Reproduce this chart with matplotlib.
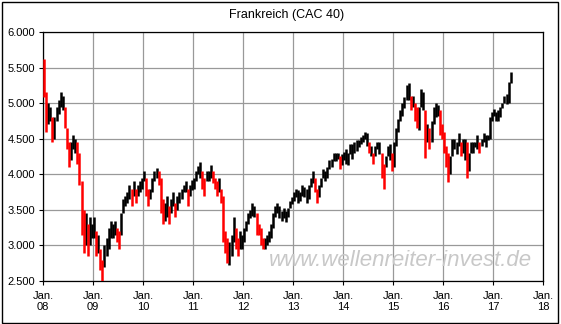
import numpy as np
import matplotlib
matplotlib.use("Agg")
import matplotlib.pyplot as plt
from matplotlib.patches import Rectangle

# CAC 40, half-monthly high / low (index points)
high_2008 = [5620, 5150, 5000, 4950, 4800, 4800, 4950, 5050, 5150, 5100, 4950, 4650,
             4450, 4450, 4550, 4500, 4450, 4300, 3900, 3500, 3450, 3300, 3400, 3300]
low_2008 = [5080, 4600, 4700, 4750, 4450, 4500, 4750, 4850, 4950, 4900, 4650, 4350,
            4100, 4200, 4350, 4300, 4150, 3850, 3150, 2900, 3000, 2850, 3000, 3100]

high_2009 = [3400, 3200, 3150, 2950, 2800, 3000, 3100, 3250, 3350, 3300, 3350, 3250,
             3200, 3450, 3650, 3700, 3750, 3850, 3800, 3900, 3800, 3850, 3900, 3950]
low_2009 = [3100, 2850, 2900, 2650, 2500, 2700, 2850, 2950, 3100, 3100, 3150, 3050,
            2950, 3150, 3450, 3550, 3600, 3650, 3550, 3700, 3600, 3700, 3750, 3800]

high_2010 = [4050, 3950, 3800, 3800, 3950, 4050, 4090, 4050, 3950, 3650, 3600, 3700,
             3550, 3650, 3750, 3600, 3700, 3750, 3800, 3850, 3900, 3800, 3850, 3920]
low_2010 = [3900, 3700, 3550, 3650, 3750, 3900, 3950, 3850, 3450, 3300, 3350, 3400,
            3300, 3450, 3550, 3400, 3500, 3600, 3650, 3750, 3750, 3550, 3700, 3780]

high_2011 = [3950, 4050, 4120, 4170, 4050, 3950, 4050, 4050, 4130, 4050, 3950, 3900,
             3950, 3800, 3700, 3200, 3100, 3050, 3150, 3400, 3250, 3100, 3200, 3150]
low_2011 = [3800, 3900, 4000, 3950, 3800, 3700, 3900, 3900, 3950, 3880, 3800, 3700,
            3750, 3600, 3050, 2900, 2750, 2720, 2850, 3050, 2950, 2850, 2950, 2950]

high_2012 = [3250, 3350, 3450, 3500, 3600, 3550, 3450, 3300, 3250, 3100, 3100, 3150,
             3200, 3300, 3450, 3550, 3600, 3560, 3480, 3520, 3480, 3520, 3630, 3680]
low_2012 = [3050, 3200, 3300, 3380, 3420, 3400, 3150, 3150, 3000, 2950, 2950, 3000,
            3050, 3100, 3250, 3400, 3450, 3380, 3340, 3380, 3330, 3400, 3520, 3580]

high_2013 = [3750, 3800, 3780, 3750, 3850, 3820, 3800, 3850, 3950, 4050, 3950, 3800,
             3850, 3950, 4080, 4050, 4100, 4200, 4220, 4300, 4300, 4300, 4250, 4280]
low_2013 = [3620, 3680, 3600, 3620, 3700, 3680, 3600, 3650, 3820, 3880, 3750, 3600,
            3680, 3820, 3950, 3900, 3950, 4080, 4100, 4180, 4180, 4220, 4080, 4130]

high_2014 = [4320, 4350, 4300, 4430, 4420, 4450, 4480, 4480, 4520, 4550, 4600, 4580,
             4450, 4400, 4300, 4400, 4450, 4450, 4300, 4150, 4250, 4400, 4420, 4300]
low_2014 = [4200, 4150, 4130, 4280, 4220, 4300, 4330, 4380, 4420, 4450, 4500, 4400,
            4300, 4250, 4150, 4250, 4350, 4280, 3950, 3790, 4100, 4250, 4200, 4050]

high_2015 = [4450, 4650, 4780, 4900, 5000, 5080, 5250, 5280, 5100, 5100, 5000, 4950,
             4950, 5200, 5150, 4900, 4700, 4650, 4750, 4950, 5000, 4980, 4900, 4700]
low_2015 = [4100, 4400, 4600, 4750, 4820, 4930, 5050, 5050, 4900, 4950, 4750, 4650,
            4620, 4950, 4900, 4230, 4450, 4350, 4450, 4700, 4800, 4820, 4550, 4500]

high_2016 = [4600, 4400, 4300, 4250, 4500, 4500, 4450, 4580, 4450, 4500, 4500, 4450,
             4300, 4450, 4450, 4450, 4550, 4450, 4500, 4580, 4550, 4550, 4800, 4870]
low_2016 = [4300, 4100, 3890, 4000, 4250, 4350, 4280, 4400, 4250, 4300, 4200, 3950,
            4050, 4300, 4300, 4380, 4350, 4300, 4400, 4450, 4380, 4480, 4500, 4750]

high_2017 = [4920, 4880, 4900, 4950, 5000, 5100, 5130, 5300, 5440]
low_2017 = [4820, 4750, 4750, 4800, 4930, 5000, 4990, 5000, 5280]

years = list(range(2008, 2019))
year_labels = ["Jan.\n%02d" % (y % 100) for y in years]
y_ticks = list(range(2500, 6001, 500))

highs = np.array(high_2008 + high_2009 + high_2010 + high_2011 + high_2012 +
                 high_2013 + high_2014 + high_2015 + high_2016 + high_2017)
lows = np.array(low_2008 + low_2009 + low_2010 + low_2011 + low_2012 +
                low_2013 + low_2014 + low_2015 + low_2016 + low_2017)
t = 2008 + (np.arange(len(highs)) + 0.5) / 24.0

# clearly falling periods red, everything else black
mid = (highs + lows) / 2.0
falling = np.r_[True, mid[1:] < mid[:-1] - 60]

plt.rcParams["font.family"] = ["Liberation Sans", "DejaVu Sans"]

fig = plt.figure(figsize=(5.61, 3.24), dpi=100)
ax = fig.add_axes([43 / 561, 1 - 281 / 324, 500 / 561, 249 / 324])

ax.text(0.715, 0.06, "www.wellenreiter-invest.de", transform=ax.transAxes,
        ha="center", va="baseline", fontsize=16, style="italic",
        color="#c8c8c8", zorder=1)

ax.vlines(t[~falling], lows[~falling], highs[~falling], colors="black",
          linewidth=1.8, zorder=3)
ax.vlines(t[falling], lows[falling], highs[falling], colors="#ff0000",
          linewidth=1.8, zorder=4)

ax.set_xlim(2008, 2018)
ax.set_ylim(2500, 6000)
ax.set_xticks(years)
ax.set_xticklabels(year_labels, fontsize=8, linespacing=1.1)
ax.set_yticks(y_ticks)
ax.set_yticklabels([f"{v:,}".replace(",", ".") for v in y_ticks], fontsize=8)
ax.tick_params(axis="y", length=2.6, width=0.8, pad=3)
ax.tick_params(axis="x", length=3, width=0.8, pad=4)
ax.grid(True, color="#999999", linewidth=0.9, zorder=0)
ax.set_axisbelow(True)
for s in ax.spines.values():
    s.set_color("black")
    s.set_linewidth(0.9)

fig.text(287 / 561, 1 - 15 / 324, "Frankreich (CAC 40)", ha="center",
         va="center", fontsize=9)

fig.patches.append(Rectangle((1.5 / 561, 1 - 322.5 / 324), 556.5 / 561, 321 / 324,
                             transform=fig.transFigure, fill=False,
                             edgecolor="black", linewidth=1.0))

fig.savefig("out.png", dpi=100)
